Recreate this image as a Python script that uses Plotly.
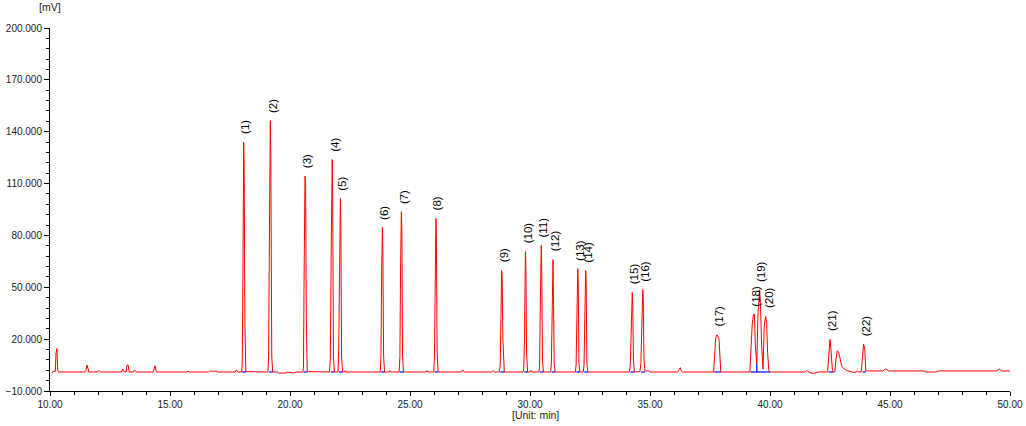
import plotly.graph_objects as go

# ---- chromatogram signal (time in min, signal in mV) ----
part_a_t = [10.07, 10.15, 10.22, 10.25, 10.29, 10.32, 10.36,
            11.45, 11.50, 11.54, 11.58, 11.62,
            11.98, 12.03, 12.07, 12.11,
            12.98, 13.03, 13.08, 13.17, 13.21, 13.26, 13.30,
            13.47, 13.52, 13.57, 13.60,
            14.30, 14.34, 14.38, 14.42, 14.46,
            15.70, 15.75, 15.82,
            16.60, 16.65, 16.95, 17.00,
            17.72, 17.77, 17.83,
            17.98, 18.01, 18.04, 18.07, 18.09, 18.12, 18.16,
            19.08, 19.11, 19.15, 19.18, 19.20, 19.24, 19.28,
            19.45, 19.55, 19.83, 19.86, 20.15, 20.25]
part_a_mv = [0.6, 1.4, 1.4, 12.0, 14.6, 2.0, 1.0,
             1.0, 2.0, 5.0, 3.2, 1.0,
             1.0, 2.0, 1.4, 1.0,
             1.0, 2.7, 1.2, 1.0, 5.0, 4.8, 1.0,
             1.0, 2.1, 1.1, 1.0,
             1.0, 2.8, 4.6, 1.5, 1.0,
             1.0, 1.5, 1.0,
             1.0, 1.5, 1.5, 1.0,
             1.0, 2.2, 1.0,
             1.0, 5.0, 60.0, 133.9, 120.0, 30.0, 1.2,
             1.0, 10.0, 95.0, 146.4, 128.0, 10.0, 1.0,
             1.0, 0.4, 0.4, 1.0, 0.4, 1.0]

part_b_t = [20.53, 20.56, 20.59, 20.625, 20.65, 20.68, 20.72,
            21.64, 21.68, 21.72, 21.76, 21.78, 21.81, 21.85,
            22.00, 22.03, 22.06, 22.10, 22.12, 22.15, 22.19, 22.27, 22.30, 22.33,
            23.76, 23.79, 23.82, 23.85, 23.87, 23.90, 23.94, 24.14, 24.17, 24.21,
            24.55, 24.58, 24.61, 24.64, 24.66, 24.69, 24.73,
            25.66, 25.70, 25.74,
            25.99, 26.02, 26.05, 26.08, 26.10, 26.13, 26.17,
            27.14, 27.20, 27.26,
            28.40, 28.46, 28.52,
            28.72, 28.76, 28.79, 28.82, 28.84, 28.87, 28.90, 28.93,
            29.71, 29.74, 29.77, 29.79, 29.81, 29.83, 29.86, 29.90,
            30.00, 30.04, 30.08,
            30.37, 30.40, 30.43, 30.45, 30.47, 30.49, 30.52, 30.56,
            30.86, 30.89, 30.92, 30.94, 30.96, 30.98, 31.01, 31.05,
            31.89, 31.92, 31.95, 31.99, 32.01, 32.04, 32.08,
            32.22, 32.25, 32.28, 32.32, 32.34, 32.37, 32.41,
            34.14, 34.18, 34.21, 34.24, 34.26, 34.28, 34.31, 34.35,
            34.58, 34.62, 34.65, 34.68, 34.70, 34.72, 34.75, 34.79, 34.95, 35.00]
part_b_mv = [1.0, 3.0, 60.0, 114.3, 110.0, 30.0, 1.2,
             1.0, 8.0, 75.0, 123.9, 100.0, 10.0, 1.0,
             1.0, 15.0, 60.0, 101.4, 85.0, 10.0, 1.0, 1.0, 1.8, 1.0,
             1.0, 10.0, 60.0, 84.6, 70.0, 10.0, 1.0, 1.0, 1.8, 1.0,
             1.0, 10.0, 65.0, 93.7, 85.0, 10.0, 1.0,
             1.0, 1.8, 1.0,
             1.0, 10.0, 55.0, 89.8, 80.0, 12.0, 1.0,
             1.0, 2.2, 1.0,
             1.0, 1.8, 1.0,
             1.0, 5.0, 33.0, 59.7, 55.0, 20.0, 2.0, 1.0,
             1.0, 3.0, 20.0, 66.0, 70.8, 60.0, 12.0, 1.0,
             1.0, 1.9, 1.0,
             1.0, 4.0, 40.0, 66.0, 74.3, 58.0, 8.0, 1.0,
             1.0, 6.0, 45.0, 65.0, 66.0, 40.0, 5.0, 1.0,
             1.0, 5.0, 40.0, 60.8, 52.0, 6.0, 1.0,
             1.0, 5.0, 40.0, 59.7, 52.0, 6.0, 1.0,
             1.0, 5.0, 30.0, 45.0, 47.0, 40.0, 8.0, 1.0,
             1.2, 6.0, 32.0, 48.0, 48.7, 42.0, 8.0, 1.6, 1.6, 1.0]

part_c_t = [36.15, 36.21, 36.26, 36.31, 36.36,
            37.65, 37.68, 37.74, 37.80, 37.875, 37.92, 37.95,
            39.16, 39.19, 39.26, 39.31, 39.35, 39.39, 39.45, 39.50, 39.54, 39.57,
            39.61, 39.65, 39.71, 39.76, 39.82, 39.86, 39.90, 39.95, 40.00,
            41.45, 41.53, 41.60, 41.75, 41.87, 42.00,
            42.40, 42.44, 42.50, 42.54, 42.60, 42.64,
            42.70, 42.75, 42.80, 42.86, 42.92, 42.99, 43.05, 43.19, 43.47,
            43.58, 43.64, 43.70,
            43.80, 43.85, 43.90, 43.95, 43.99, 44.05,
            44.70, 44.82, 44.95, 46.40, 46.50, 46.90, 47.00, 49.45, 49.55, 49.65, 50.00]
part_c_mv = [1.0, 2.4, 3.5, 1.5, 1.0,
             1.0, 10.4, 21.0, 22.5, 20.0, 8.5, 1.0,
             1.0, 12.3, 28.7, 34.4, 34.4, 16.2, 5.6, 35.4, 43.1, 48.5,
             37.3, 17.1, 2.7, 27.7, 33.1, 29.6, 12.3, 2.0, 1.0,
             1.0, 2.0, 1.0, 0.3, 0.3, 1.0,
             1.0, 8.5, 19.8, 14.0, 2.0, 1.0,
             1.0, 8.5, 13.3, 12.4, 7.6, 4.4, 3.3, 1.9, 0.8,
             0.8, 1.6, 1.0,
             1.0, 8.5, 17.1, 14.2, 1.6, 1.6,
             1.6, 2.8, 1.6, 1.6, 1.0, 1.0, 1.6, 1.6, 2.8, 1.6, 1.6]

# ---- labelled peaks ----
peak_labels = ["(1)", "(2)", "(3)", "(4)", "(5)", "(6)", "(7)", "(8)", "(9)", "(10)", "(11)",
               "(12)", "(13)", "(14)", "(15)", "(16)", "(17)", "(18)", "(19)", "(20)", "(21)", "(22)"]
peak_time = [18.07, 19.18, 20.625, 21.76, 22.10, 23.85, 24.64, 26.08, 28.82, 29.81, 30.47,
             30.96, 31.99, 32.32, 34.26, 34.70, 37.80, 39.33, 39.57, 39.875, 42.50, 43.90]
peak_height = [133.9, 146.4, 114.3, 123.9, 101.4, 84.6, 93.7, 89.8, 59.7, 70.8, 74.3,
               66.0, 60.8, 59.7, 47.0, 48.7, 22.5, 34.4, 48.5, 33.1, 19.8, 17.1]
# integration baselines (start, end)
peak_start = [18.00, 19.12, 20.56, 21.70, 22.04, 23.80, 24.58, 26.03, 28.76, 29.76, 30.41,
              30.90, 31.93, 32.26, 34.19, 34.63, 37.68, 39.19, 39.45, 39.71, 42.44, 43.85]
peak_end = [18.16, 19.28, 20.72, 21.85, 22.19, 23.94, 24.73, 26.17, 28.93, 29.90, 30.56,
            31.05, 32.08, 32.41, 34.35, 34.79, 37.95, 39.45, 39.71, 40.00, 42.64, 43.99]
drop_time = [39.45]
drop_top = [5.6]

sig_t = part_a_t + part_b_t + part_c_t
sig_mv = part_a_mv + part_b_mv + part_c_mv

FONT = "Liberation Sans, Arial"

fig = go.Figure()
fig.add_trace(go.Scatter(x=sig_t, y=sig_mv, mode="lines",
                         line=dict(color="#ff0000", width=1), hoverinfo="skip"))

bx, by = [], []
for s, e in zip(peak_start, peak_end):
    bx += [s, e, None]
    by += [1.0, 1.0, None]
for t, top in zip(drop_time, drop_top):
    bx += [t, t, None]
    by += [1.0, top, None]
fig.add_trace(go.Scatter(x=bx, y=by, mode="lines",
                         line=dict(color="#0000ff", width=1.2), hoverinfo="skip"))

annotations = []
for lab, t, h in zip(peak_labels, peak_time, peak_height):
    annotations.append(dict(x=t, y=h, xref="x", yref="y", text=lab, showarrow=False,
                            textangle=-90, xanchor="center", yanchor="bottom",
                            yshift=6, xshift=2,
                            font=dict(family=FONT, size=11.5, color="#000000")))
annotations.append(dict(x=0, y=1, xref="paper", yref="paper", text="[mV]", showarrow=False,
                        xanchor="center", yanchor="bottom", yshift=13,
                        font=dict(family=FONT, size=10.5, color="#222222")))
annotations.append(dict(x=0.5, y=0, xref="paper", yref="paper", text="[Unit: min]",
                        showarrow=False, xanchor="center", yanchor="middle",
                        yshift=-24, xshift=5,
                        font=dict(family=FONT, size=10.5, color="#222222")))

fig.update_layout(
    width=1026, height=426,
    margin=dict(l=50, r=16, t=28, b=35, autoexpand=False),
    paper_bgcolor="white", plot_bgcolor="white",
    showlegend=False,
    font=dict(family=FONT, size=10, color="#222222"),
    annotations=annotations,
)
fig.update_xaxes(range=[10, 50], tick0=10, dtick=5, tickformat=".2f", automargin=False,
                 tickfont=dict(size=10, color="#222222"),
                 showline=True, linecolor="black", linewidth=1,
                 showgrid=False, zeroline=False,
                 ticks="outside", ticklen=4, tickcolor="black",
                 minor=dict(dtick=1, ticks="outside", ticklen=3, tickcolor="black", showgrid=False))
fig.update_yaxes(range=[-10, 200], tick0=-10, dtick=30, tickformat=".3f", automargin=False,
                 tickfont=dict(size=10, color="#222222"),
                 showline=True, linecolor="black", linewidth=1,
                 showgrid=False, zeroline=False,
                 ticks="outside", ticklen=5, tickcolor="black",
                 minor=dict(dtick=6, tick0=-10, ticks="outside", ticklen=3, tickcolor="black", showgrid=False))

fig.write_html("out.html", config={"displayModeBar": False},
               post_script="document.body.style.margin='0';document.body.style.overflow='hidden';")
